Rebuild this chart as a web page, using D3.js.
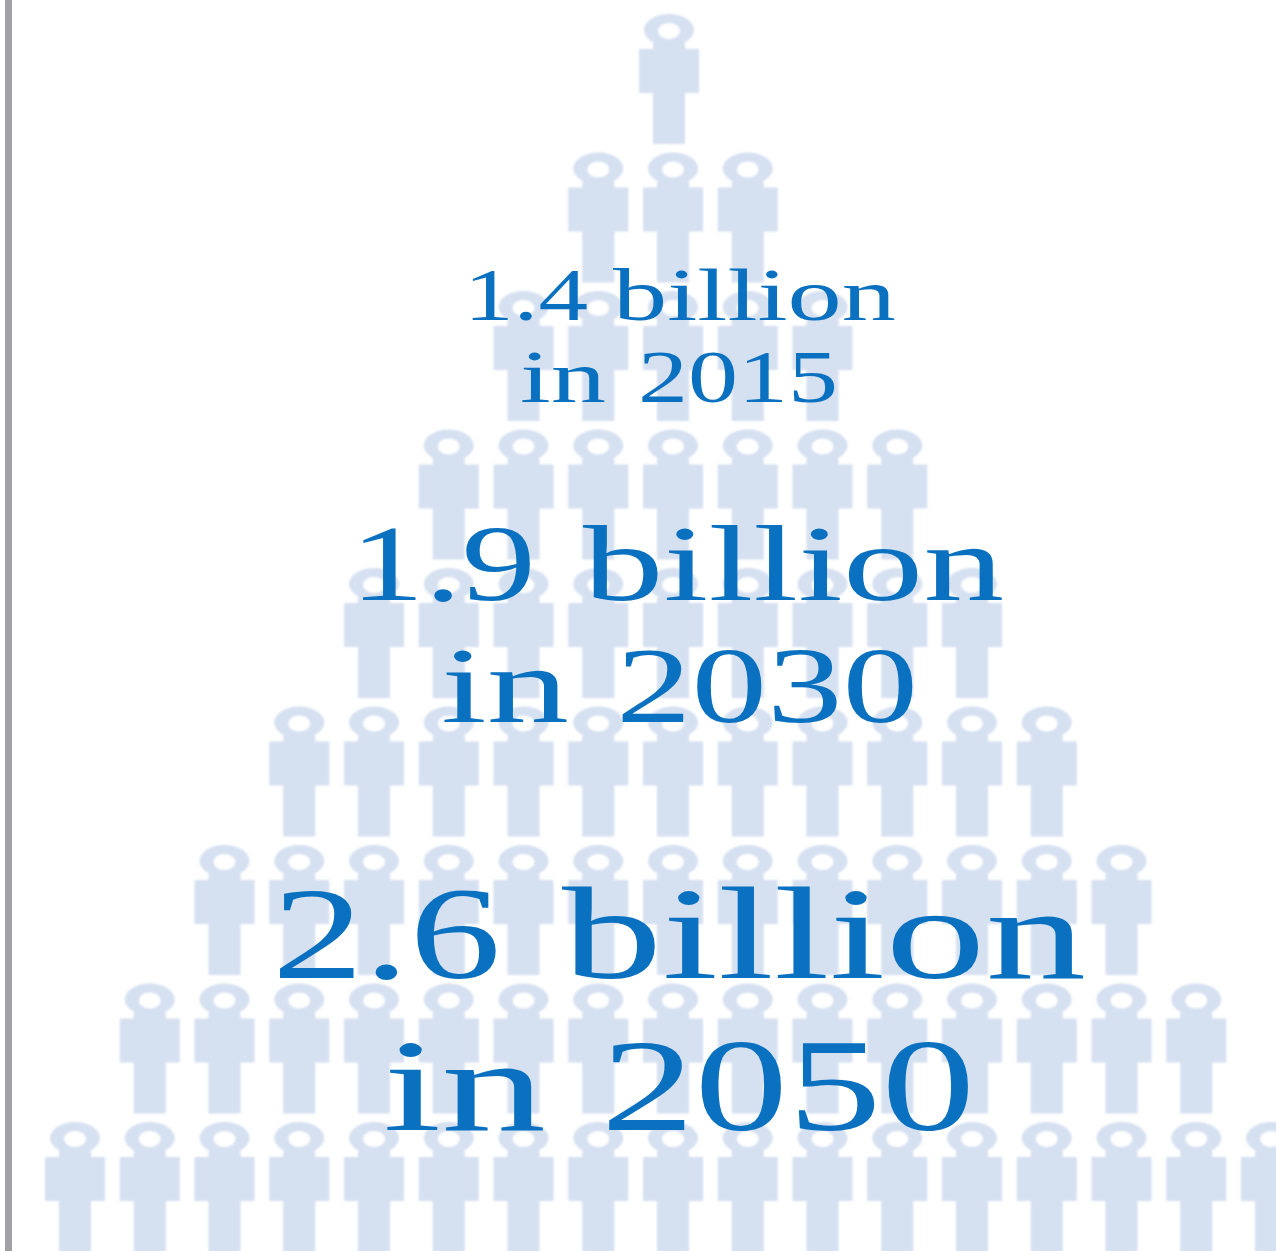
<!DOCTYPE html>
<html>
<head>
<meta charset="utf-8">
<script src="https://cdn.jsdelivr.net/npm/d3@7"></script>
<style>
html,body{margin:0;padding:0;background:#fff;overflow:hidden}
svg{display:block}
</style>
</head>
<body>
<svg id="chart" width="1276" height="1251"></svg>
<script>
// One figure per column slot; the pyramid widens by two figures on each row.
const rowCounts = [1, 3, 5, 7, 9, 11, 13, 15, 17];
const amounts = ["1.4 billion", "1.9 billion", "2.6 billion"];
const years = ["in 2015", "in 2030", "in 2050"];

const width = 1276, height = 1251;
const svg = d3.select("#chart");

const soft = svg.append("defs").append("filter")
  .attr("id", "soft").attr("x", "-5%").attr("y", "-5%").attr("width", "110%").attr("height", "110%");
soft.append("feGaussianBlur").attr("stdDeviation", 1);

// Left rule
svg.append("rect").attr("x", 5).attr("y", 0).attr("width", 7).attr("height", height).attr("fill", "#a1a1a5");

const x = d3.scaleLinear().domain([-8, 8]).range([75, 1271]);
const y = d3.scaleLinear().domain([0, 8]).range([14, 1122]);

// Figure outline, origin at the top centre of the head: oval ring, neck, torso, legs
const personPath = [
  "M-25,16 A25,16 0 1,1 25,16 A25,16 0 1,1 -25,16 Z",
  "M-11,17 A11,8 0 1,0 11,17 A11,8 0 1,0 -11,17 Z",
  "M-16,29 H16 V36 H-16 Z",
  "M-30,35 H30 V79 H-30 Z",
  "M-16,78 H16 V130 H-16 Z"
].join(" ");

const figures = svg.append("g").attr("filter", "url(#soft)").attr("fill", "#d5e0f1");
figures.selectAll("g.row")
  .data(rowCounts)
  .join("g")
  .attr("class", "row")
  .attr("transform", (d, i) => `translate(${i === 0 ? -4 : 0},${y(i)})`)
  .selectAll("path")
  .data(n => d3.range(n).map(k => k - (n - 1) / 2))
  .join("path")
  .attr("d", personPath)
  .attr("transform", k => `translate(${x(k)},0)`);

// Stacked captions, growing in size with the year; each word has its own extent
const captionStyle = [
  {size: 74, top: {y: 320, first: [464, 124], second: [613, 283]}, bottom: {y: 402, first: [520, 86], second: [638, 200]}},
  {size: 108, top: {y: 600, first: [350, 186], second: [583, 421]}, bottom: {y: 722, first: [441, 128], second: [616, 302]}},
  {size: 132, top: {y: 978, first: [272, 229], second: [562, 524]}, bottom: {y: 1130, first: [383, 163], second: [601, 374]}}
];

const captions = svg.append("g")
  .attr("fill", "#0a70c0")
  .attr("font-family", "'Liberation Serif', serif");

const lines = amounts.flatMap((a, i) => [
  {text: a, size: captionStyle[i].size, ...captionStyle[i].top},
  {text: years[i], size: captionStyle[i].size, ...captionStyle[i].bottom}
]);

const captionText = captions.selectAll("text")
  .data(lines)
  .join("text")
  .attr("y", d => d.y)
  .attr("font-size", d => d.size);

captionText.each(function (d) {
  const [head, tail] = d.text.split(" ");
  const line = d3.select(this);
  line.append("tspan")
    .attr("x", d.first[0]).attr("textLength", d.first[1])
    .attr("lengthAdjust", "spacingAndGlyphs").text(head);
  this.appendChild(document.createTextNode(" "));
  line.append("tspan")
    .attr("x", d.second[0]).attr("textLength", d.second[1])
    .attr("lengthAdjust", "spacingAndGlyphs").text(tail);
});
</script>
</body>
</html>
